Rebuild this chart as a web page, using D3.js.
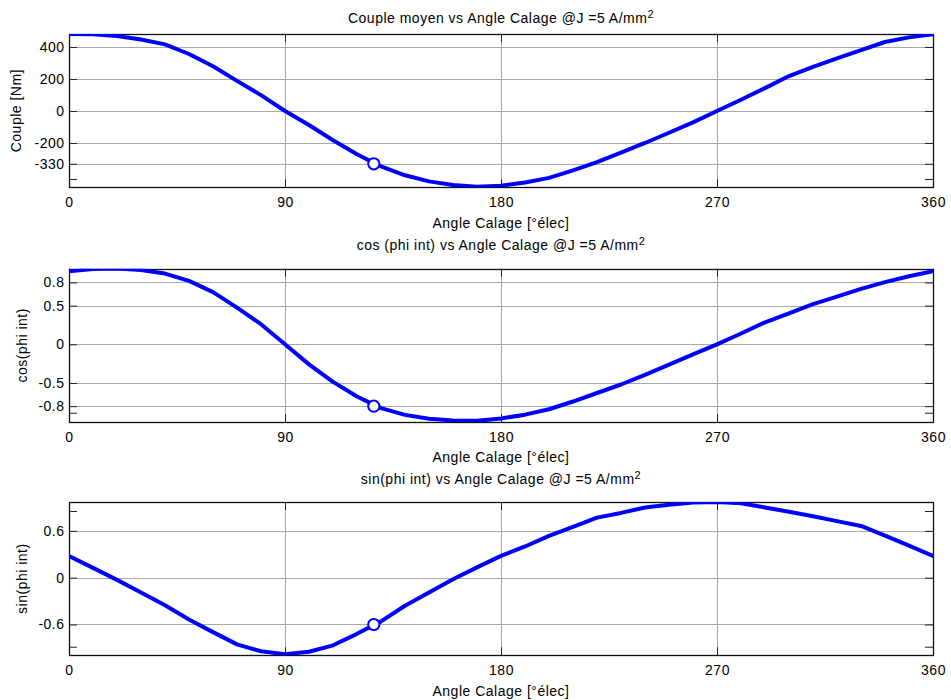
<!DOCTYPE html>
<html>
<head>
<meta charset="utf-8">
<script src="https://cdn.jsdelivr.net/npm/d3@7"></script>
<style>
  html, body { margin: 0; padding: 0; background: #fff; }
  svg { display: block; }
  text { font-family: "Liberation Sans", Arial, sans-serif; font-size: 14px; letter-spacing: 0.5px; fill: #000; }
</style>
</head>
<body>
<svg id="chart" width="951" height="700"></svg>
<script>
// ---------- data ----------
const angles = [0,10,20,30,40,50,60,70,80,90,100,110,120,130,140,150,160,170,180,
                190,200,210,220,230,240,250,260,270,280,290,300,310,320,330,340,350,360];
const couple = [481,479,468,447,416,356,279,188,99,0,-88,-183,-270,-347,-402,-440,-462,-473,-467,
                -447,-418,-371,-320,-260,-200,-136,-71,0,70,143,218,276,328,380,431,460,479];
const cosPhi = [0.945,0.975,0.98,0.96,0.915,0.82,0.675,0.475,0.26,0,-0.26,-0.486,-0.675,-0.825,-0.913,-0.963,-0.985,-0.99,-0.96,
                -0.91,-0.84,-0.74,-0.63,-0.52,-0.395,-0.263,-0.13,0,0.14,0.285,0.40,0.52,0.617,0.717,0.805,0.88,0.945];
const sinPhi = [0.278,0.126,-0.028,-0.19,-0.353,-0.535,-0.698,-0.855,-0.943,-0.98,-0.95,-0.867,-0.72,-0.56,-0.36,-0.19,-0.02,0.132,0.28,
                0.40,0.536,0.65,0.77,0.83,0.90,0.935,0.963,0.97,0.955,0.90,0.846,0.787,0.725,0.663,0.54,0.41,0.278];

const markerAngle = 127;
const markerCouple = -330, markerCos = -0.8, markerSin = -0.6;

const xTicks = [0, 90, 180, 270, 360];
const coupleTicks = [-330, -200, 0, 200, 400];
const cosTicks = [-0.8, -0.5, 0, 0.5, 0.8];
const sinTicks = [-0.6, 0, 0.6];
const coupleExtraTicks = [-425];
const cosExtraTicks = [-0.885];
const sinExtraTicks = [-0.885, 0.855];

const titleMain = " vs Angle Calage @J =5 A/mm";
const titles = ["Couple moyen", "cos (phi int)", "sin(phi int)"];
const yLabels = ["Couple [Nm]", "cos(phi int)", "sin(phi int)"];
const xLabel = "Angle Calage [°élec]";

// ---------- layout ----------
const svg = d3.select("#chart");
const L = 69, R = 933;
const plain = d => String(d);
const panels = [
  { top: 34,    bottom: 187.3, domain: [-477, 481],     values: couple, ticks: coupleTicks, extra: coupleExtraTicks, marker: markerCouple, titleY: 22.5, ylabX: 21 },
  { top: 268.7, bottom: 422,   domain: [-1.005, 0.978], values: cosPhi, ticks: cosTicks,    extra: cosExtraTicks,    marker: markerCos,    titleY: 250,  ylabX: 27.3 },
  { top: 502,   bottom: 655.3, domain: [-0.995, 0.97],  values: sinPhi, ticks: sinTicks,    extra: sinExtraTicks,    marker: markerSin,    titleY: 484,  ylabX: 27.3 }
];

const x = d3.scaleLinear().domain([0, 360]).range([L, R]);
const gridColor = "#a8a8a8";
const tickLen = 8;

panels.forEach((p, i) => {
  const y = d3.scaleLinear().domain(p.domain).range([p.bottom, p.top]);
  const g = svg.append("g");

  // clip
  const clipId = "clip" + i;
  svg.append("clipPath").attr("id", clipId)
    .append("rect").attr("x", L).attr("y", p.top).attr("width", R - L).attr("height", p.bottom - p.top);

  // grid
  g.append("g").selectAll("line").data(p.ticks).join("line")
    .attr("x1", L).attr("x2", R)
    .attr("y1", d => Math.round(y(d)) + 0.5).attr("y2", d => Math.round(y(d)) + 0.5)
    .attr("stroke", gridColor).attr("stroke-width", 1);
  g.append("g").selectAll("line").data(xTicks.slice(1, -1)).join("line")
    .attr("y1", p.top).attr("y2", p.bottom)
    .attr("x1", d => Math.round(x(d)) + 0.5).attr("x2", d => Math.round(x(d)) + 0.5)
    .attr("stroke", gridColor).attr("stroke-width", 1);

  // axes
  const xb = g.append("g").attr("transform", `translate(0,${p.bottom})`)
    .call(d3.axisBottom(x).tickValues(xTicks).tickSizeInner(-tickLen).tickSizeOuter(0).tickPadding(9.7).tickFormat(plain));
  const xt = g.append("g").attr("transform", `translate(0,${p.top})`)
    .call(d3.axisTop(x).tickValues(xTicks).tickSizeInner(-tickLen).tickSizeOuter(0).tickFormat(""));
  const yl = g.append("g").attr("transform", `translate(${L},0)`)
    .call(d3.axisLeft(y).tickValues(p.ticks).tickSizeInner(-tickLen).tickSizeOuter(0).tickPadding(4.5).tickFormat(plain));
  const yle = g.append("g").attr("transform", `translate(${L},0)`)
    .call(d3.axisLeft(y).tickValues(p.extra).tickSizeInner(-tickLen).tickSizeOuter(0).tickFormat(""));
  const yr = g.append("g").attr("transform", `translate(${R},0)`)
    .call(d3.axisRight(y).tickValues(p.ticks.concat(p.extra)).tickSizeInner(-tickLen).tickSizeOuter(0).tickFormat(""));
  [xb, xt, yl, yle, yr].forEach(a => {
    a.select(".domain").remove();
    a.selectAll(".tick line").attr("stroke", "#222").attr("stroke-width", 1);
    a.selectAll("text").attr("font-family", null).attr("font-size", null).attr("fill", "#000");
  });

  // frame
  g.append("rect").attr("x", L + 0.5).attr("y", Math.round(p.top) + 0.5)
    .attr("width", R - L).attr("height", Math.round(p.bottom) - Math.round(p.top))
    .attr("fill", "none").attr("stroke", "#111").attr("stroke-width", 1.3);

  // curve
  const line = d3.line().x((d, k) => x(angles[k])).y(d => y(d));
  g.append("path").datum(p.values)
    .attr("clip-path", `url(#${clipId})`)
    .attr("d", line)
    .attr("fill", "none").attr("stroke", "#0000ff").attr("stroke-width", 4)
    .attr("stroke-linejoin", "round").attr("stroke-linecap", "round");

  // marker
  g.append("circle").attr("cx", x(markerAngle)).attr("cy", y(p.marker)).attr("r", 5.6)
    .attr("fill", "#fff").attr("stroke", "#0000ff").attr("stroke-width", 2);

  // title
  const t = g.append("text").attr("x", (L + R) / 2).attr("y", p.titleY).attr("text-anchor", "middle");
  t.append("tspan").text(titles[i] + titleMain);
  t.append("tspan").attr("dy", -5).attr("font-size", "11px").text("2");

  // x label
  g.append("text").attr("x", (L + R) / 2).attr("y", p.bottom + 40.4).attr("text-anchor", "middle").text(xLabel);

  // y label
  g.append("text").attr("transform", `translate(${p.ylabX},${(p.top + p.bottom) / 2}) rotate(-90)`)
    .attr("text-anchor", "middle").text(yLabels[i]);
});
</script>
</body>
</html>
